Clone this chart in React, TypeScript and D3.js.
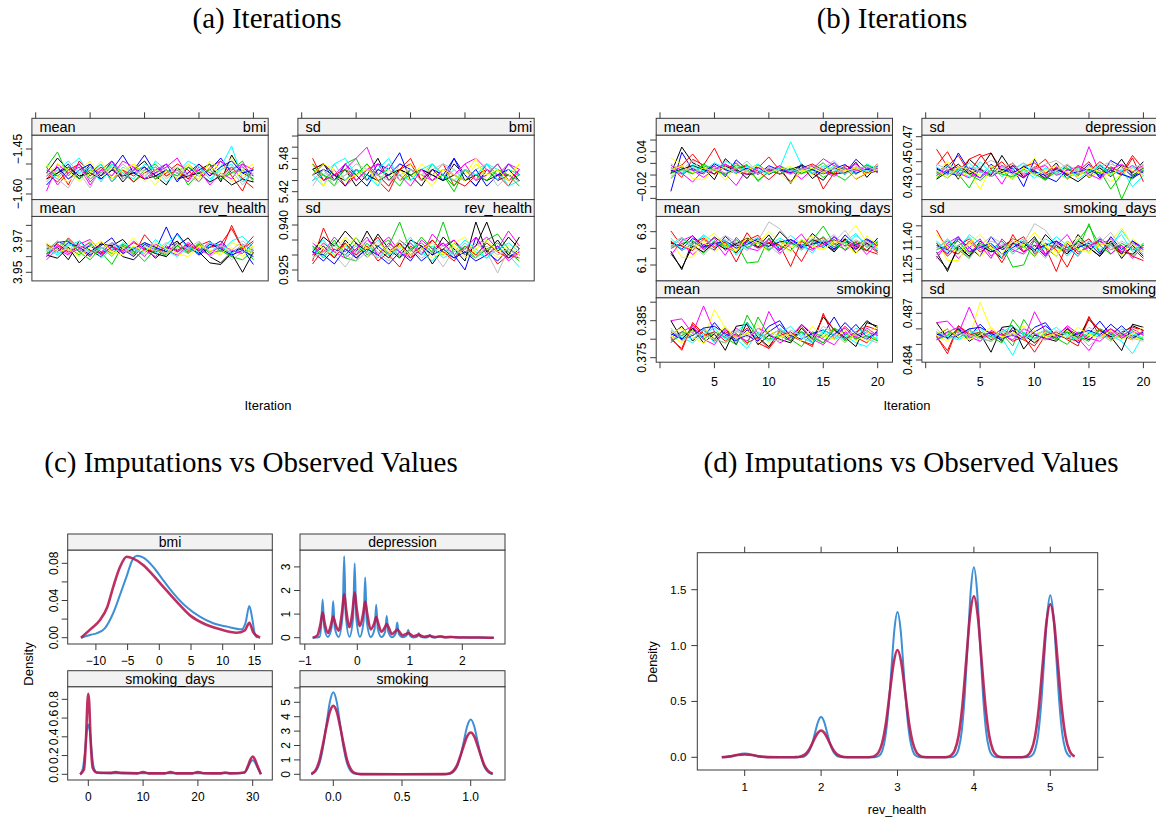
import React from "react";
import * as d3 from "d3";

const SANS = "'Liberation Sans', Arial, Helvetica, sans-serif";
const SERIF = "'Liberation Serif', 'Times New Roman', serif";
const FRAME = "#3a3a3a";
const STRIP_FILL = "#f2f2f2";
const OBS_COL = "#3d8fd6";
const IMP_COL = "#b61a51";

// ---------- trace plots (a) and (b) ----------
const iterations = [1, 2, 3, 4, 5, 6, 7, 8, 9, 10, 11, 12, 13, 14, 15, 16, 17, 18, 19, 20];
const iterTicks = [0, 5, 10, 15, 20];
const iterLabels = [5, 10, 15, 20];
const chainColors = ["#000000", "#ff0000", "#00cd00", "#0000ff", "#00ffff", "#ff00ff", "#ffff00", "#bebebe"];

const meanBmi = [
  [-1.53,-1.48,-1.52,-1.55,-1.50,-1.54,-1.51,-1.56,-1.52,-1.49,-1.54,-1.57,-1.51,-1.55,-1.52,-1.50,-1.56,-1.47,-1.53,-1.55],
  [-1.55,-1.51,-1.57,-1.49,-1.53,-1.50,-1.56,-1.52,-1.54,-1.51,-1.55,-1.53,-1.50,-1.52,-1.56,-1.51,-1.49,-1.54,-1.59,-1.51],
  [-1.51,-1.46,-1.54,-1.50,-1.55,-1.52,-1.49,-1.53,-1.56,-1.52,-1.50,-1.54,-1.51,-1.57,-1.53,-1.50,-1.55,-1.52,-1.49,-1.56],
  [-1.57,-1.53,-1.50,-1.55,-1.51,-1.54,-1.49,-1.55,-1.52,-1.47,-1.53,-1.50,-1.56,-1.51,-1.54,-1.52,-1.48,-1.53,-1.51,-1.54],
  [-1.52,-1.55,-1.51,-1.48,-1.54,-1.50,-1.56,-1.51,-1.53,-1.55,-1.49,-1.52,-1.54,-1.50,-1.53,-1.56,-1.51,-1.44,-1.55,-1.52],
  [-1.59,-1.50,-1.53,-1.51,-1.57,-1.52,-1.49,-1.54,-1.51,-1.55,-1.52,-1.50,-1.53,-1.56,-1.51,-1.54,-1.49,-1.52,-1.50,-1.54],
  [-1.50,-1.54,-1.56,-1.52,-1.49,-1.55,-1.51,-1.53,-1.50,-1.56,-1.52,-1.54,-1.51,-1.53,-1.55,-1.49,-1.52,-1.48,-1.54,-1.51],
  [-1.54,-1.52,-1.55,-1.53,-1.58,-1.51,-1.54,-1.50,-1.53,-1.52,-1.55,-1.51,-1.53,-1.50,-1.54,-1.52,-1.55,-1.53,-1.51,-1.56],
  [-1.55,-1.53,-1.51,-1.54,-1.53,-1.55,-1.52,-1.54,-1.53,-1.55,-1.54,-1.52,-1.55,-1.54,-1.53,-1.56,-1.54,-1.57,-1.55,-1.56],
  [-1.53,-1.56,-1.52,-1.50,-1.54,-1.51,-1.55,-1.52,-1.56,-1.53,-1.51,-1.54,-1.52,-1.55,-1.50,-1.53,-1.54,-1.51,-1.55,-1.58],
  [-1.52,-1.54,-1.51,-1.55,-1.52,-1.53,-1.50,-1.54,-1.52,-1.51,-1.55,-1.52,-1.54,-1.51,-1.53,-1.52,-1.55,-1.53,-1.52,-1.55],
  [-1.54,-1.51,-1.55,-1.52,-1.50,-1.55,-1.52,-1.47,-1.53,-1.51,-1.54,-1.52,-1.55,-1.53,-1.50,-1.54,-1.51,-1.49,-1.53,-1.52],
  [-1.56,-1.52,-1.49,-1.53,-1.51,-1.56,-1.50,-1.53,-1.55,-1.50,-1.52,-1.56,-1.53,-1.49,-1.51,-1.55,-1.52,-1.50,-1.56,-1.53],
  [-1.51,-1.57,-1.53,-1.50,-1.56,-1.52,-1.54,-1.49,-1.51,-1.55,-1.53,-1.51,-1.48,-1.54,-1.52,-1.57,-1.53,-1.55,-1.50,-1.52],
  [-1.54,-1.50,-1.52,-1.56,-1.53,-1.49,-1.55,-1.52,-1.50,-1.53,-1.57,-1.52,-1.55,-1.50,-1.54,-1.51,-1.53,-1.56,-1.52,-1.50],
  [-1.53,-1.55,-1.58,-1.52,-1.55,-1.53,-1.51,-1.55,-1.52,-1.54,-1.51,-1.55,-1.52,-1.54,-1.56,-1.52,-1.54,-1.52,-1.57,-1.53],
];

const sdBmi = [
  [5.45,5.47,5.44,5.46,5.43,5.45,5.48,5.44,5.46,5.45,5.43,5.46,5.44,5.47,5.45,5.43,5.46,5.44,5.45,5.44],
  [5.47,5.44,5.46,5.43,5.45,5.47,5.44,5.42,5.46,5.48,5.44,5.45,5.47,5.43,5.46,5.44,5.47,5.45,5.43,5.46],
  [5.46,5.45,5.43,5.47,5.48,5.44,5.46,5.45,5.43,5.46,5.44,5.47,5.45,5.42,5.46,5.44,5.45,5.47,5.44,5.45],
  [5.44,5.46,5.45,5.43,5.46,5.44,5.47,5.46,5.49,5.44,5.46,5.45,5.44,5.48,5.45,5.43,5.46,5.44,5.47,5.45],
  [5.45,5.43,5.47,5.48,5.45,5.43,5.46,5.48,5.44,5.46,5.45,5.47,5.44,5.46,5.44,5.45,5.47,5.46,5.43,5.44],
  [5.46,5.47,5.45,5.46,5.48,5.50,5.45,5.47,5.44,5.46,5.45,5.44,5.46,5.45,5.47,5.48,5.46,5.45,5.47,5.46],
  [5.47,5.43,5.46,5.44,5.45,5.47,5.43,5.45,5.46,5.44,5.47,5.45,5.46,5.44,5.45,5.48,5.44,5.46,5.45,5.47],
  [5.44,5.46,5.43,5.45,5.46,5.44,5.45,5.43,5.47,5.46,5.45,5.46,5.47,5.46,5.44,5.46,5.47,5.45,5.44,5.46],
  [5.46,5.47,5.45,5.44,5.46,5.45,5.44,5.45,5.46,5.45,5.46,5.45,5.44,5.45,5.44,5.45,5.44,5.45,5.45,5.44],
  [5.48,5.44,5.45,5.46,5.44,5.46,5.45,5.43,5.46,5.47,5.44,5.46,5.45,5.44,5.43,5.45,5.46,5.44,5.46,5.45],
  [5.47,5.45,5.44,5.46,5.45,5.47,5.45,5.46,5.44,5.45,5.46,5.44,5.45,5.43,5.46,5.45,5.44,5.46,5.45,5.43],
  [5.45,5.46,5.44,5.47,5.45,5.43,5.46,5.45,5.47,5.46,5.44,5.46,5.45,5.48,5.44,5.46,5.43,5.45,5.46,5.44],
  [5.44,5.45,5.47,5.44,5.46,5.45,5.43,5.47,5.45,5.44,5.46,5.47,5.45,5.44,5.46,5.45,5.47,5.44,5.46,5.45],
  [5.46,5.44,5.45,5.47,5.44,5.46,5.47,5.44,5.45,5.43,5.46,5.44,5.46,5.45,5.47,5.44,5.45,5.47,5.44,5.46],
  [5.45,5.47,5.46,5.44,5.45,5.46,5.44,5.46,5.44,5.47,5.45,5.43,5.46,5.45,5.44,5.47,5.45,5.46,5.44,5.47],
  [5.43,5.46,5.44,5.45,5.47,5.46,5.45,5.44,5.45,5.46,5.44,5.45,5.47,5.45,5.46,5.44,5.46,5.43,5.45,5.44],
];

const meanRevHealth = [
  [3.962,3.966,3.958,3.970,3.964,3.960,3.967,3.971,3.963,3.966,3.959,3.965,3.970,3.962,3.968,3.960,3.956,3.963,3.966,3.962],
  [3.968,3.963,3.972,3.965,3.960,3.969,3.964,3.967,3.961,3.974,3.966,3.962,3.969,3.964,3.967,3.970,3.963,3.980,3.965,3.973],
  [3.964,3.970,3.966,3.961,3.968,3.963,3.955,3.967,3.962,3.969,3.965,3.960,3.967,3.962,3.969,3.963,3.966,3.960,3.958,3.964],
  [3.960,3.969,3.970,3.963,3.967,3.962,3.969,3.965,3.960,3.968,3.964,3.979,3.963,3.967,3.961,3.966,3.970,3.963,3.965,3.955],
  [3.966,3.962,3.968,3.964,3.970,3.959,3.965,3.968,3.963,3.966,3.962,3.968,3.974,3.965,3.962,3.967,3.963,3.970,3.973,3.966],
  [3.958,3.965,3.961,3.968,3.971,3.963,3.968,3.962,3.966,3.960,3.968,3.964,3.961,3.967,3.964,3.969,3.966,3.962,3.968,3.964],
  [3.969,3.964,3.966,3.962,3.970,3.966,3.961,3.965,3.972,3.963,3.967,3.962,3.966,3.963,3.968,3.964,3.962,3.966,3.960,3.967],
  [3.963,3.967,3.964,3.970,3.962,3.965,3.968,3.963,3.966,3.961,3.964,3.969,3.965,3.962,3.966,3.960,3.965,3.958,3.963,3.961],
  [3.961,3.959,3.966,3.956,3.963,3.968,3.967,3.960,3.958,3.965,3.962,3.960,3.967,3.972,3.963,3.956,3.955,3.962,3.950,3.963],
  [3.965,3.968,3.963,3.967,3.964,3.962,3.966,3.964,3.969,3.965,3.963,3.966,3.964,3.968,3.964,3.966,3.968,3.978,3.965,3.970],
  [3.962,3.966,3.971,3.963,3.958,3.966,3.962,3.968,3.964,3.957,3.965,3.961,3.967,3.963,3.968,3.962,3.964,3.960,3.967,3.958],
  [3.967,3.963,3.969,3.966,3.961,3.967,3.972,3.962,3.965,3.969,3.966,3.963,3.975,3.966,3.962,3.968,3.965,3.961,3.964,3.960],
  [3.965,3.961,3.967,3.970,3.963,3.966,3.960,3.969,3.965,3.962,3.971,3.964,3.960,3.966,3.963,3.969,3.967,3.962,3.968,3.963],
  [3.960,3.967,3.962,3.965,3.969,3.961,3.966,3.963,3.970,3.964,3.960,3.967,3.963,3.969,3.965,3.961,3.968,3.964,3.962,3.969],
  [3.967,3.963,3.965,3.960,3.966,3.970,3.963,3.961,3.967,3.963,3.969,3.965,3.962,3.960,3.967,3.964,3.961,3.969,3.966,3.962],
  [3.963,3.970,3.964,3.967,3.962,3.965,3.969,3.966,3.961,3.967,3.964,3.962,3.968,3.965,3.970,3.963,3.967,3.964,3.970,3.965],
];

const sdRevHealth = [
  [0.930,0.933,0.929,0.935,0.931,0.938,0.932,0.929,0.934,0.930,0.933,0.927,0.932,0.935,0.930,0.933,0.941,0.931,0.936,0.932],
  [0.928,0.939,0.931,0.934,0.929,0.932,0.936,0.930,0.926,0.933,0.930,0.935,0.931,0.928,0.933,0.930,0.932,0.927,0.930,0.929],
  [0.933,0.930,0.935,0.929,0.928,0.934,0.930,0.933,0.941,0.931,0.936,0.932,0.930,0.934,0.931,0.929,0.935,0.937,0.932,0.930],
  [0.931,0.928,0.932,0.930,0.934,0.929,0.933,0.930,0.935,0.932,0.928,0.931,0.934,0.930,0.925,0.936,0.931,0.928,0.932,0.930],
  [0.932,0.935,0.930,0.933,0.931,0.934,0.929,0.932,0.930,0.934,0.931,0.928,0.932,0.930,0.934,0.931,0.929,0.933,0.930,0.926],
  [0.934,0.931,0.936,0.932,0.930,0.935,0.933,0.936,0.931,0.934,0.930,0.937,0.933,0.935,0.931,0.933,0.936,0.932,0.938,0.933],
  [0.930,0.934,0.931,0.936,0.933,0.929,0.932,0.930,0.935,0.931,0.933,0.929,0.931,0.934,0.936,0.930,0.932,0.929,0.931,0.934],
  [0.929,0.932,0.930,0.926,0.931,0.935,0.931,0.928,0.933,0.930,0.932,0.931,0.926,0.932,0.930,0.934,0.931,0.924,0.932,0.930],
  [0.931,0.936,0.933,0.938,0.934,0.931,0.937,0.932,0.929,0.935,0.933,0.930,0.936,0.932,0.928,0.941,0.931,0.935,0.930,0.936],
  [0.927,0.932,0.929,0.934,0.930,0.933,0.928,0.931,0.934,0.929,0.932,0.935,0.931,0.929,0.933,0.930,0.934,0.931,0.929,0.931],
  [0.933,0.929,0.934,0.931,0.936,0.930,0.933,0.935,0.929,0.932,0.934,0.931,0.941,0.930,0.933,0.929,0.932,0.934,0.931,0.928],
  [0.931,0.930,0.927,0.932,0.929,0.932,0.930,0.927,0.931,0.928,0.933,0.930,0.932,0.929,0.931,0.928,0.930,0.933,0.929,0.932],
  [0.932,0.929,0.934,0.930,0.933,0.931,0.935,0.930,0.932,0.936,0.930,0.933,0.929,0.931,0.935,0.932,0.929,0.932,0.934,0.931],
  [0.930,0.934,0.931,0.929,0.932,0.936,0.930,0.934,0.931,0.929,0.935,0.932,0.934,0.930,0.932,0.936,0.930,0.933,0.928,0.931],
  [0.935,0.932,0.930,0.933,0.936,0.932,0.934,0.931,0.933,0.930,0.932,0.934,0.930,0.933,0.929,0.932,0.935,0.931,0.933,0.930],
  [0.929,0.931,0.933,0.930,0.928,0.931,0.929,0.933,0.930,0.932,0.929,0.931,0.933,0.930,0.932,0.929,0.933,0.930,0.932,0.929],
];

const meanDepression = [
  [0.002,0.048,0.021,0.012,-0.008,0.028,0.011,-0.006,0.018,0.004,0.013,-0.015,0.019,0.003,-0.009,0.014,0.001,0.022,-0.004,0.016],
  [0.013,-0.004,0.027,0.017,0.046,0.009,0.021,0.002,0.012,0.031,0.008,-0.011,0.006,0.017,-0.024,0.004,0.013,-0.007,0.003,0.019],
  [-0.006,0.012,0.003,0.019,0.008,0.001,0.017,0.010,-0.009,0.005,0.016,0.007,0.002,0.011,-0.004,0.006,0.012,0.001,0.018,0.008],
  [-0.028,0.039,0.008,0.002,0.016,-0.003,0.026,0.009,0.013,0.001,0.011,0.004,0.018,0.002,0.009,0.021,0.003,0.027,0.010,0.015],
  [0.011,0.004,0.018,0.009,0.002,0.024,0.015,0.008,0.019,0.003,0.012,0.057,0.017,0.009,0.004,0.016,0.011,0.002,0.019,0.010],
  [0.017,0.003,-0.012,0.009,0.015,0.002,-0.018,0.011,0.004,0.012,0.001,0.008,-0.007,0.010,0.028,0.016,0.007,0.019,0.003,0.012],
  [0.029,0.018,-0.006,-0.008,0.012,-0.009,0.016,0.002,-0.005,0.010,0.003,-0.014,0.008,0.001,0.015,0.003,0.009,-0.006,0.004,0.018],
  [0.019,0.008,0.026,0.004,0.012,0.017,0.009,0.024,0.003,0.011,0.002,0.008,0.017,0.004,0.012,0.025,0.003,0.015,0.007,0.013],
  [0.004,0.010,0.016,0.009,0.002,0.015,0.008,0.001,0.003,0.009,0.002,0.010,0.016,-0.006,0.008,0.002,0.004,0.011,0.003,0.007],
  [0.009,0.017,0.036,0.013,0.001,0.018,0.010,0.016,0.007,-0.008,0.009,0.002,0.012,0.019,0.008,0.001,0.016,0.010,0.003,0.011],
  [0.003,0.009,0.002,0.016,0.008,0.001,0.011,0.018,-0.011,0.007,0.002,0.012,0.003,0.009,0.021,0.002,-0.009,0.008,0.017,0.004],
  [0.008,0.002,0.011,0.004,0.019,0.009,0.003,0.012,0.001,0.016,0.008,0.004,0.017,0.009,0.002,0.011,0.018,0.003,0.010,0.006],
  [0.012,0.001,0.015,0.007,0.021,0.012,0.004,0.015,0.009,0.002,0.014,0.006,0.011,0.003,0.016,0.009,0.001,0.013,0.006,0.015],
  [0.005,0.014,0.008,-0.004,0.010,0.019,0.006,0.001,0.013,0.007,0.016,0.002,0.010,0.015,0.005,-0.002,0.011,0.007,0.014,0.004],
  [0.009,0.016,0.004,0.012,0.006,0.014,0.001,0.009,0.016,0.004,0.010,0.015,0.006,0.012,0.003,0.014,0.007,0.012,0.002,0.010],
  [-0.002,0.007,0.013,0.003,0.010,0.004,0.012,0.006,0.002,0.013,0.007,0.001,0.009,0.016,0.006,0.011,0.003,0.009,0.015,0.007],
];

const sdDepression = [
  [0.441,0.448,0.436,0.452,0.444,0.439,0.455,0.442,0.437,0.446,0.440,0.449,0.436,0.444,0.438,0.447,0.441,0.452,0.439,0.445],
  [0.460,0.446,0.455,0.441,0.454,0.457,0.443,0.449,0.438,0.445,0.452,0.440,0.447,0.442,0.450,0.437,0.446,0.441,0.455,0.444],
  [0.437,0.444,0.440,0.429,0.445,0.438,0.443,0.436,0.447,0.441,0.435,0.444,0.439,0.446,0.437,0.443,0.428,0.440,0.436,0.445],
  [0.445,0.440,0.457,0.443,0.437,0.448,0.441,0.445,0.430,0.452,0.438,0.434,0.444,0.440,0.448,0.437,0.451,0.446,0.438,0.443],
  [0.440,0.447,0.442,0.438,0.450,0.441,0.446,0.439,0.443,0.437,0.445,0.440,0.448,0.436,0.442,0.446,0.439,0.444,0.430,0.439],
  [0.439,0.443,0.446,0.441,0.437,0.444,0.432,0.447,0.440,0.442,0.437,0.446,0.441,0.438,0.462,0.440,0.445,0.442,0.447,0.441],
  [0.438,0.451,0.437,0.442,0.428,0.445,0.440,0.436,0.443,0.453,0.439,0.441,0.436,0.444,0.438,0.442,0.434,0.440,0.445,0.437],
  [0.443,0.439,0.445,0.440,0.446,0.451,0.447,0.443,0.449,0.444,0.448,0.451,0.445,0.440,0.446,0.443,0.448,0.445,0.441,0.446],
  [0.436,0.442,0.448,0.440,0.444,0.457,0.441,0.447,0.438,0.443,0.436,0.445,0.439,0.434,0.441,0.445,0.438,0.447,0.441,0.450],
  [0.447,0.458,0.442,0.452,0.456,0.444,0.450,0.440,0.446,0.449,0.441,0.445,0.439,0.447,0.442,0.450,0.444,0.439,0.453,0.434],
  [0.442,0.437,0.444,0.440,0.435,0.443,0.440,0.438,0.444,0.440,0.436,0.442,0.445,0.439,0.443,0.441,0.445,0.420,0.439,0.443],
  [0.444,0.441,0.439,0.445,0.442,0.438,0.444,0.441,0.446,0.442,0.439,0.444,0.440,0.442,0.444,0.439,0.443,0.440,0.437,0.442],
  [0.446,0.440,0.443,0.449,0.441,0.446,0.438,0.444,0.449,0.439,0.445,0.441,0.437,0.445,0.442,0.448,0.440,0.443,0.446,0.439],
  [0.439,0.446,0.441,0.437,0.443,0.440,0.447,0.442,0.438,0.444,0.447,0.439,0.443,0.446,0.440,0.436,0.444,0.448,0.442,0.447],
  [0.443,0.437,0.446,0.444,0.439,0.447,0.442,0.440,0.445,0.439,0.443,0.447,0.441,0.438,0.445,0.442,0.439,0.446,0.443,0.440],
  [0.448,0.444,0.439,0.446,0.442,0.438,0.445,0.449,0.441,0.446,0.440,0.443,0.448,0.442,0.439,0.446,0.450,0.441,0.445,0.448],
];

const meanSmokingDays = [
  [6.183,6.072,6.241,6.204,6.268,6.219,6.171,6.252,6.207,6.281,6.193,6.238,6.202,6.289,6.231,6.178,6.254,6.212,6.186,6.262],
  [6.305,6.214,6.187,6.256,6.201,6.236,6.118,6.248,6.279,6.192,6.243,6.206,6.121,6.237,6.264,6.209,6.251,6.198,6.226,6.174],
  [6.212,6.258,6.223,6.171,6.246,6.205,6.234,6.112,6.119,6.262,6.218,6.187,6.249,6.213,6.271,6.195,6.236,6.221,6.184,6.241],
  [6.238,6.196,6.259,6.223,6.189,6.272,6.214,6.240,6.203,6.231,6.186,6.254,6.219,6.247,6.204,6.268,6.228,6.193,6.251,6.215],
  [6.224,6.267,6.201,6.282,6.236,6.209,6.255,6.194,6.243,6.217,6.261,6.228,6.188,6.239,6.208,6.251,6.214,6.277,6.226,6.199],
  [6.199,6.232,6.162,6.218,6.261,6.187,6.227,6.241,6.201,6.256,6.193,6.235,6.214,6.188,6.246,6.224,6.259,6.205,6.238,6.219],
  [6.251,6.146,6.147,6.238,6.181,6.224,6.196,6.262,6.219,6.184,6.244,6.207,6.236,6.275,6.192,6.231,6.262,6.337,6.237,6.208],
  [6.226,6.241,6.209,6.247,6.222,6.253,6.232,6.218,6.244,6.359,6.318,6.234,6.214,6.246,6.226,6.238,6.308,6.221,6.243,6.201],
  [6.169,6.081,6.214,6.178,6.233,6.196,6.227,6.262,6.241,6.209,6.301,6.237,6.198,6.253,6.227,6.188,6.257,6.172,6.232,6.184],
  [6.244,6.187,6.228,6.263,6.211,6.239,6.176,6.294,6.203,6.236,6.219,6.091,6.243,6.198,6.231,6.252,6.214,6.236,6.188,6.165],
  [6.207,6.229,6.246,6.198,6.238,6.214,6.251,6.206,6.233,6.187,6.245,6.229,6.216,6.248,6.334,6.227,6.193,6.244,6.212,6.235],
  [6.231,6.214,6.277,6.209,6.227,6.246,6.201,6.224,6.258,6.213,6.238,6.251,6.209,6.226,6.242,6.196,6.281,6.219,6.257,6.222],
  [6.262,6.188,6.231,6.276,6.204,6.249,6.158,6.231,6.266,6.199,6.213,6.278,6.224,6.171,6.258,6.206,6.241,6.289,6.202,6.247],
  [6.158,6.247,6.275,6.191,6.239,6.158,6.266,6.203,6.186,6.254,6.171,6.226,6.286,6.198,6.217,6.272,6.186,6.235,6.163,6.229],
  [6.287,6.221,6.194,6.246,6.292,6.214,6.181,6.269,6.228,6.301,6.235,6.178,6.257,6.212,6.191,6.242,6.229,6.168,6.276,6.218],
  [6.203,6.266,6.218,6.159,6.228,6.277,6.238,6.186,6.252,6.217,6.163,6.246,6.197,6.262,6.239,6.283,6.206,6.252,6.214,6.191],
];

const sdSmokingDays = [
  [11.33,11.24,11.36,11.31,11.38,11.34,11.30,11.37,11.35,11.40,11.32,11.36,11.33,11.41,11.35,11.31,11.37,11.33,11.32,11.36],
  [11.43,11.34,11.32,11.38,11.33,11.36,11.28,11.37,11.40,11.32,11.37,11.34,11.26,11.36,11.39,11.33,11.38,11.32,11.35,11.30],
  [11.35,11.38,11.34,11.30,11.37,11.33,11.36,11.26,11.27,11.39,11.35,11.31,11.38,11.34,11.46,11.32,11.36,11.35,11.31,11.37],
  [11.37,11.32,11.39,11.35,11.31,11.40,11.34,11.37,11.33,11.36,11.31,11.38,11.35,11.37,11.33,11.39,11.36,11.32,11.38,11.34],
  [11.34,11.39,11.33,11.41,11.37,11.33,11.38,11.32,11.37,11.34,11.39,11.36,11.31,11.37,11.33,11.38,11.35,11.43,11.36,11.32],
  [11.32,11.36,11.30,11.35,11.39,11.31,11.36,11.38,11.33,11.39,11.32,11.37,11.35,11.31,11.38,11.36,11.39,11.33,11.37,11.35],
  [11.38,11.29,11.29,11.37,11.31,11.35,11.32,11.38,11.35,11.31,11.37,11.33,11.36,11.40,11.32,11.36,11.38,11.44,11.36,11.33],
  [11.36,11.37,11.33,11.37,11.35,11.38,11.36,11.34,11.37,11.46,11.43,11.36,11.34,11.37,11.35,11.37,11.42,11.35,11.37,11.33],
  [11.31,11.25,11.35,11.31,11.36,11.33,11.35,11.39,11.37,11.33,11.41,11.36,11.32,11.38,11.35,11.31,11.38,11.30,11.36,11.31],
  [11.37,11.31,11.36,11.39,11.34,11.37,11.30,11.41,11.33,11.36,11.35,11.24,11.37,11.32,11.36,11.38,11.34,11.36,11.31,11.29],
  [11.34,11.36,11.38,11.32,11.37,11.34,11.38,11.33,11.36,11.31,11.37,11.35,11.34,11.38,11.45,11.36,11.32,11.37,11.34,11.36],
  [11.36,11.34,11.40,11.33,11.35,11.37,11.32,11.35,11.38,11.34,11.36,11.38,11.33,11.35,11.37,11.32,11.40,11.34,11.38,11.35],
  [11.38,11.33,11.36,11.40,11.34,11.37,11.30,11.36,11.39,11.33,11.35,11.40,11.36,11.31,11.38,11.34,11.37,11.41,11.33,11.37],
  [11.30,11.37,11.40,11.33,11.36,11.30,11.39,11.34,11.32,11.38,11.31,11.36,11.41,11.33,11.35,11.39,11.32,11.36,11.30,11.36],
  [11.41,11.35,11.33,11.37,11.41,11.35,11.32,11.39,11.36,11.42,11.36,11.31,11.38,11.34,11.33,11.37,11.36,11.31,11.39,11.35],
  [11.34,11.39,11.35,11.30,11.36,11.40,11.37,11.32,11.38,11.35,11.30,11.37,11.33,11.39,11.36,11.40,11.34,11.38,11.35,11.32],
];

const meanSmoking = [
  [0.3810,0.3835,0.3795,0.3825,0.3800,0.3830,0.3785,0.3845,0.3805,0.3780,0.3820,0.3795,0.3840,0.3810,0.3790,0.3825,0.3800,0.3815,0.3850,0.3830],
  [0.3800,0.3775,0.3845,0.3815,0.3795,0.3820,0.3805,0.3830,0.3790,0.3775,0.3825,0.3810,0.3795,0.3780,0.3870,0.3800,0.3835,0.3805,0.3790,0.3825],
  [0.3805,0.3820,0.3810,0.3830,0.3800,0.3790,0.3815,0.3785,0.3860,0.3810,0.3825,0.3800,0.3780,0.3820,0.3805,0.3830,0.3795,0.3810,0.3825,0.3795],
  [0.3820,0.3800,0.3830,0.3805,0.3845,0.3810,0.3795,0.3825,0.3800,0.3835,0.3850,0.3805,0.3820,0.3790,0.3815,0.3860,0.3810,0.3840,0.3805,0.3815],
  [0.3795,0.3810,0.3800,0.3825,0.3790,0.3815,0.3800,0.3775,0.3820,0.3800,0.3830,0.3805,0.3815,0.3795,0.3820,0.3800,0.3810,0.3790,0.3780,0.3810],
  [0.3850,0.3855,0.3815,0.3890,0.3820,0.3805,0.3830,0.3810,0.3795,0.3875,0.3820,0.3810,0.3835,0.3800,0.3785,0.3815,0.3830,0.3800,0.3820,0.3810],
  [0.3810,0.3790,0.3825,0.3800,0.3880,0.3830,0.3805,0.3815,0.3840,0.3790,0.3820,0.3805,0.3830,0.3795,0.3810,0.3825,0.3790,0.3815,0.3795,0.3805],
  [0.3800,0.3815,0.3820,0.3825,0.3810,0.3805,0.3820,0.3815,0.3800,0.3810,0.3825,0.3815,0.3820,0.3810,0.3790,0.3805,0.3815,0.3810,0.3805,0.3815],
  [0.3850,0.3800,0.3830,0.3790,0.3815,0.3770,0.3835,0.3840,0.3785,0.3810,0.3800,0.3790,0.3830,0.3800,0.3860,0.3825,0.3805,0.3780,0.3845,0.3835],
  [0.3805,0.3770,0.3840,0.3810,0.3820,0.3795,0.3815,0.3790,0.3805,0.3775,0.3810,0.3820,0.3795,0.3785,0.3865,0.3825,0.3800,0.3820,0.3835,0.3825],
  [0.3795,0.3810,0.3825,0.3800,0.3820,0.3805,0.3785,0.3865,0.3815,0.3800,0.3810,0.3795,0.3820,0.3805,0.3790,0.3830,0.3815,0.3800,0.3810,0.3795],
  [0.3815,0.3800,0.3810,0.3830,0.3835,0.3815,0.3800,0.3810,0.3795,0.3820,0.3840,0.3810,0.3800,0.3815,0.3825,0.3810,0.3845,0.3815,0.3800,0.3820],
  [0.3825,0.3805,0.3790,0.3815,0.3830,0.3800,0.3820,0.3845,0.3810,0.3795,0.3815,0.3835,0.3805,0.3790,0.3825,0.3810,0.3800,0.3830,0.3815,0.3800],
  [0.3790,0.3820,0.3835,0.3800,0.3785,0.3825,0.3810,0.3795,0.3830,0.3815,0.3790,0.3805,0.3840,0.3815,0.3800,0.3785,0.3820,0.3805,0.3830,0.3810],
  [0.3815,0.3830,0.3805,0.3790,0.3810,0.3835,0.3800,0.3820,0.3790,0.3825,0.3805,0.3815,0.3795,0.3835,0.3810,0.3800,0.3825,0.3795,0.3815,0.3835],
  [0.3830,0.3795,0.3815,0.3810,0.3800,0.3790,0.3825,0.3805,0.3830,0.3800,0.3795,0.3825,0.3810,0.3800,0.3835,0.3815,0.3790,0.3820,0.3800,0.3790],
];

const sdSmoking = [
  [0.4856,0.4860,0.4854,0.4859,0.4855,0.4858,0.4852,0.4861,0.4856,0.4851,0.4857,0.4854,0.4860,0.4856,0.4853,0.4859,0.4855,0.4857,0.4862,0.4859],
  [0.4855,0.4846,0.4862,0.4857,0.4854,0.4858,0.4856,0.4859,0.4853,0.4849,0.4859,0.4856,0.4854,0.4852,0.4868,0.4855,0.4860,0.4856,0.4853,0.4859],
  [0.4855,0.4858,0.4856,0.4860,0.4854,0.4852,0.4857,0.4849,0.4866,0.4856,0.4859,0.4854,0.4850,0.4858,0.4855,0.4860,0.4853,0.4856,0.4859,0.4853],
  [0.4858,0.4854,0.4860,0.4855,0.4863,0.4856,0.4853,0.4859,0.4854,0.4861,0.4864,0.4855,0.4858,0.4851,0.4857,0.4865,0.4856,0.4862,0.4855,0.4857],
  [0.4853,0.4856,0.4854,0.4859,0.4852,0.4857,0.4854,0.4843,0.4858,0.4854,0.4860,0.4855,0.4857,0.4853,0.4858,0.4854,0.4856,0.4852,0.4844,0.4856],
  [0.4864,0.4865,0.4857,0.4874,0.4858,0.4855,0.4860,0.4856,0.4853,0.4871,0.4858,0.4856,0.4861,0.4854,0.4846,0.4857,0.4860,0.4854,0.4858,0.4856],
  [0.4856,0.4852,0.4859,0.4854,0.4877,0.4860,0.4855,0.4857,0.4862,0.4852,0.4858,0.4855,0.4860,0.4853,0.4856,0.4859,0.4852,0.4857,0.4853,0.4855],
  [0.4854,0.4857,0.4858,0.4859,0.4856,0.4855,0.4858,0.4857,0.4854,0.4856,0.4859,0.4857,0.4858,0.4856,0.4849,0.4855,0.4857,0.4856,0.4855,0.4857],
  [0.4864,0.4854,0.4860,0.4852,0.4857,0.4845,0.4861,0.4862,0.4847,0.4856,0.4854,0.4852,0.4860,0.4854,0.4866,0.4859,0.4855,0.4846,0.4863,0.4861],
  [0.4855,0.4844,0.4862,0.4856,0.4858,0.4853,0.4857,0.4852,0.4855,0.4845,0.4856,0.4858,0.4853,0.4849,0.4867,0.4859,0.4854,0.4858,0.4861,0.4859],
  [0.4853,0.4856,0.4859,0.4854,0.4858,0.4855,0.4851,0.4866,0.4857,0.4854,0.4856,0.4853,0.4858,0.4855,0.4852,0.4860,0.4857,0.4854,0.4856,0.4853],
  [0.4857,0.4854,0.4856,0.4860,0.4861,0.4857,0.4854,0.4856,0.4853,0.4858,0.4862,0.4856,0.4854,0.4857,0.4859,0.4856,0.4863,0.4857,0.4854,0.4858],
  [0.4858,0.4855,0.4853,0.4857,0.4860,0.4854,0.4858,0.4862,0.4856,0.4853,0.4857,0.4861,0.4855,0.4853,0.4858,0.4856,0.4854,0.4860,0.4857,0.4854],
  [0.4853,0.4858,0.4861,0.4855,0.4852,0.4859,0.4856,0.4853,0.4860,0.4857,0.4853,0.4855,0.4862,0.4857,0.4854,0.4852,0.4858,0.4855,0.4860,0.4856],
  [0.4857,0.4860,0.4855,0.4853,0.4856,0.4861,0.4854,0.4858,0.4853,0.4859,0.4855,0.4857,0.4854,0.4861,0.4856,0.4854,0.4859,0.4853,0.4857,0.4861],
  [0.4860,0.4853,0.4857,0.4856,0.4854,0.4852,0.4859,0.4855,0.4860,0.4854,0.4853,0.4859,0.4856,0.4854,0.4861,0.4857,0.4852,0.4858,0.4854,0.4852],
];

// layout of the lattice pages
const FIG_X0 = { a: [35.7, 301.7], b: [660, 925.7] }; // pixel of iteration 0
const ITER_SPAN = 217.7; // pixels for 20 iterations
const PANEL_W = 236.3;
const ROW0 = 118.3;
const ROW_H = 81.3;
const STRIP_H = 16.8;

// anchor: [value1, px below plot top, value2, px below plot top]
const tracePanels = [
  { fig: "a", col: 0, row: 0, stat: "mean", name: "bmi", chains: meanBmi, anchor: [-1.45, 13.9, -1.6, 58.9], ticks: [-1.6, -1.55, -1.5, -1.45], labels: [-1.6, -1.45], fmt: ".2f" },
  { fig: "a", col: 1, row: 0, stat: "sd", name: "bmi", chains: sdBmi, anchor: [5.48, 23.2, 5.42, 56.6], ticks: [5.42, 5.44, 5.46, 5.48, 5.5, 5.52], labels: [5.42, 5.48], fmt: ".2f" },
  { fig: "a", col: 0, row: 1, stat: "mean", name: "rev_health", chains: meanRevHealth, anchor: [3.97, 24.6, 3.95, 55.9], ticks: [3.95, 3.96, 3.97, 3.98], labels: [3.95, 3.97], fmt: ".2f" },
  { fig: "a", col: 1, row: 1, stat: "sd", name: "rev_health", chains: sdRevHealth, anchor: [0.94, 8.6, 0.925, 53.6], ticks: [0.925, 0.93, 0.935, 0.94], labels: [0.925, 0.94], fmt: ".3f" },
  { fig: "b", col: 0, row: 0, stat: "mean", name: "depression", chains: meanDepression, anchor: [0.04, 16.6, -0.02, 51.6], ticks: [-0.04, -0.02, 0, 0.02, 0.04, 0.06], labels: [-0.02, 0.04], fmt: ".2f" },
  { fig: "b", col: 1, row: 0, stat: "sd", name: "depression", chains: sdDepression, anchor: [0.47, 1.6, 0.43, 51.6], ticks: [0.43, 0.44, 0.45, 0.46, 0.47], labels: [0.43, 0.45, 0.47], fmt: ".2f" },
  { fig: "b", col: 0, row: 1, stat: "mean", name: "smoking_days", chains: meanSmokingDays, anchor: [6.3, 15.3, 6.1, 48.6], ticks: [6.1, 6.2, 6.3], labels: [6.1, 6.3], fmt: ".1f" },
  { fig: "b", col: 1, row: 1, stat: "sd", name: "smoking_days", chains: sdSmokingDays, anchor: [11.4, 20.3, 11.25, 52.9], ticks: [11.25, 11.3, 11.35, 11.4, 11.45], labels: [11.25, 11.4], fmt: ".2f" },
  { fig: "b", col: 0, row: 2, stat: "mean", name: "smoking", chains: meanSmoking, anchor: [0.385, 23, 0.375, 60], ticks: [0.375, 0.38, 0.385, 0.39], labels: [0.375, 0.385], fmt: ".3f" },
  { fig: "b", col: 1, row: 2, stat: "sd", name: "smoking", chains: sdSmoking, anchor: [0.487, 15.6, 0.484, 62.3], ticks: [0.484, 0.485, 0.486, 0.487], labels: [0.484, 0.487], fmt: ".3f" },
];

// ---------- density plots (c) and (d) ----------
const bmiObs = [[-12.35,0],[-10.9,0.003],[-9.9,0.0047],[-8.6,0.010],[-7.3,0.026],[-6.2,0.046],[-5.1,0.067],[-4.35,0.082],[-3.5,0.088],[-2.5,0.086],[-0.95,0.076],[0.6,0.062],[2.2,0.048],[4.3,0.033],[6.4,0.0226],[8.5,0.0155],[10.6,0.012],[13.0,0.009],[13.6,0.016],[14.2,0.034],[14.7,0.019],[15.1,0.003],[15.5,0]];
const bmiImp = [[-12.35,0],[-10.7,0.010],[-9.35,0.019],[-8.2,0.033],[-7.25,0.055],[-6.2,0.076],[-5.15,0.087],[-4.1,0.085],[-2.5,0.078],[-0.95,0.067],[0.6,0.055],[2.7,0.039],[4.85,0.024],[6.9,0.0155],[9.6,0.009],[12.2,0.0054],[13.5,0.008],[14.2,0.016],[14.8,0.006],[15.9,0]];

const depressionObs = [[-0.85,0],[-0.72,0.03],[-0.69,0.45],[-0.66,1.62],[-0.63,0.45],[-0.56,0.03],[-0.49,0.43],[-0.46,1.55],[-0.43,0.43],[-0.355,0.03],[-0.28,0.95],[-0.25,3.45],[-0.22,0.95],[-0.15,0.04],[-0.08,0.86],[-0.05,3.15],[-0.02,0.86],[0.05,0.04],[0.12,0.7],[0.15,2.55],[0.18,0.7],[0.255,0.03],[0.33,0.38],[0.36,1.4],[0.39,0.38],[0.46,0.03],[0.53,0.25],[0.56,0.92],[0.59,0.25],[0.66,0.02],[0.73,0.17],[0.76,0.64],[0.79,0.17],[0.865,0.02],[0.94,0.09],[0.97,0.33],[1.0,0.09],[1.07,0.01],[1.14,0.05],[1.17,0.19],[1.2,0.05],[1.275,0.01],[1.35,0.03],[1.38,0.11],[1.41,0.03],[1.48,0.01],[1.58,0.06],[1.68,0.01],[1.78,0.04],[1.88,0.01],[2.0,0.015],[2.2,0.01],[2.4,0.005],[2.6,0]];
const depressionImp = [[-0.85,0],[-0.76,0.1],[-0.7,0.6],[-0.66,1.07],[-0.62,0.6],[-0.56,0.2],[-0.5,0.55],[-0.46,0.9],[-0.42,0.6],[-0.355,0.3],[-0.29,1.1],[-0.25,1.85],[-0.21,1.15],[-0.15,0.45],[-0.09,1.15],[-0.05,1.92],[-0.01,1.2],[0.05,0.5],[0.11,1.0],[0.15,1.53],[0.19,1.0],[0.255,0.35],[0.32,0.6],[0.36,0.87],[0.4,0.6],[0.46,0.25],[0.52,0.42],[0.56,0.58],[0.6,0.42],[0.66,0.15],[0.72,0.26],[0.76,0.35],[0.8,0.26],[0.865,0.1],[0.93,0.16],[0.97,0.2],[1.01,0.15],[1.07,0.06],[1.17,0.12],[1.275,0.04],[1.38,0.08],[1.48,0.03],[1.58,0.05],[1.68,0.02],[1.78,0.03],[2.0,0.01],[2.3,0.01],[2.6,0]];

const smokingDaysObs = [[-1.5,0],[-1.0,0.06],[-0.6,0.25],[-0.3,0.45],[0,0.53],[0.3,0.45],[0.6,0.25],[1.0,0.07],[1.5,0.02],[3,0.01],[10,0.01],[20,0.01],[27,0.01],[28.5,0.02],[29.2,0.08],[29.6,0.13],[30,0.15],[30.4,0.13],[30.8,0.08],[31.5,0]];
const smokingDaysImp = [[-1.5,0],[-0.8,0.05],[-0.4,0.4],[-0.15,0.78],[0,0.86],[0.15,0.78],[0.4,0.4],[0.8,0.07],[1.5,0.02],[4,0.015],[5,0.025],[6,0.015],[9,0.01],[10,0.025],[11,0.01],[14,0.01],[15,0.025],[16,0.01],[19,0.01],[20,0.025],[21,0.012],[24,0.01],[25,0.02],[26,0.01],[28.5,0.02],[29.2,0.1],[29.6,0.16],[30,0.19],[30.4,0.16],[30.8,0.1],[31.5,0]];

const smokingObs = [[-0.16,0],[-0.15,0.06],[-0.125,0.25],[-0.1,0.77],[-0.075,1.85],[-0.05,3.46],[-0.025,5.03],[0,5.7],[0.025,5.03],[0.05,3.46],[0.075,1.85],[0.1,0.77],[0.125,0.25],[0.15,0.06],[0.2,0.005],[0.5,0],[0.8,0.005],[0.85,0.04],[0.875,0.17],[0.9,0.51],[0.925,1.23],[0.95,2.3],[0.975,3.35],[1,3.8],[1.025,3.35],[1.05,2.3],[1.075,1.23],[1.1,0.51],[1.125,0.17],[1.15,0.04],[1.16,0.02]];
const smokingImp = [[-0.16,0.02],[-0.125,0.35],[-0.1,1.0],[-0.075,2.1],[-0.05,3.3],[-0.025,4.35],[0,4.75],[0.025,4.35],[0.05,3.3],[0.075,2.1],[0.1,1.0],[0.125,0.4],[0.15,0.12],[0.2,0.01],[0.5,0],[0.8,0.01],[0.85,0.08],[0.875,0.25],[0.9,0.62],[0.925,1.28],[0.95,2.0],[0.975,2.65],[1,2.9],[1.025,2.65],[1.05,2.0],[1.075,1.28],[1.1,0.62],[1.125,0.25],[1.16,0.04]];

const revHealthObs = [[0.7,0],[0.8,0.004],[0.9,0.02],[0.96,0.032],[1,0.035],[1.04,0.032],[1.1,0.02],[1.2,0.004],[1.3,0.001],[1.6,0],[1.76,0.002],[1.8,0.016],[1.84,0.049],[1.88,0.117],[1.92,0.218],[1.96,0.318],[2,0.36],[2.04,0.318],[2.08,0.218],[2.12,0.117],[2.16,0.049],[2.2,0.016],[2.24,0.004],[2.3,0],[2.7,0],[2.76,0.014],[2.8,0.057],[2.84,0.176],[2.88,0.422],[2.92,0.788],[2.96,1.147],[3,1.3],[3.04,1.147],[3.08,0.788],[3.12,0.422],[3.16,0.176],[3.2,0.057],[3.24,0.014],[3.3,0],[3.7,0],[3.76,0.019],[3.8,0.075],[3.84,0.23],[3.88,0.552],[3.92,1.031],[3.96,1.5],[4,1.7],[4.04,1.5],[4.08,1.031],[4.12,0.552],[4.16,0.23],[4.2,0.075],[4.24,0.019],[4.3,0],[4.7,0],[4.76,0.016],[4.8,0.064],[4.84,0.196],[4.88,0.471],[4.92,0.879],[4.96,1.28],[5,1.45],[5.04,1.28],[5.08,0.879],[5.12,0.471],[5.16,0.196],[5.2,0.064],[5.24,0.016],[5.27,0.005]];
const revHealthImp = [[0.7,0],[0.8,0.008],[0.9,0.02],[1,0.025],[1.1,0.02],[1.2,0.008],[1.3,0.002],[1.6,0],[1.65,0.001],[1.7,0.003],[1.75,0.011],[1.8,0.032],[1.85,0.078],[1.9,0.146],[1.95,0.212],[2,0.24],[2.05,0.212],[2.1,0.146],[2.15,0.078],[2.2,0.032],[2.25,0.011],[2.3,0.003],[2.4,0],[2.6,0],[2.65,0.002],[2.7,0.011],[2.75,0.042],[2.8,0.13],[2.85,0.312],[2.9,0.582],[2.95,0.847],[3,0.96],[3.05,0.847],[3.1,0.582],[3.15,0.312],[3.2,0.13],[3.25,0.042],[3.3,0.011],[3.35,0.002],[3.4,0],[3.6,0],[3.65,0.003],[3.7,0.016],[3.75,0.063],[3.8,0.195],[3.85,0.468],[3.9,0.873],[3.95,1.271],[4,1.44],[4.05,1.271],[4.1,0.873],[4.15,0.468],[4.2,0.195],[4.25,0.063],[4.3,0.016],[4.35,0.003],[4.4,0],[4.6,0],[4.65,0.003],[4.7,0.015],[4.75,0.06],[4.8,0.185],[4.85,0.445],[4.9,0.831],[4.95,1.209],[5,1.37],[5.05,1.209],[5.1,0.831],[5.15,0.445],[5.2,0.185],[5.25,0.06],[5.3,0.015],[5.32,0.01]];

const densityPanels = [
  { name: "bmi", left: 67.7, right: 272.3, stripTop: 534, bottom: 644, obs: bmiObs, imp: bmiImp, xA: [0, 159.3, 15, 254.4], yA: [0, 637.7, 0.08, 563.3], xTicks: [-10, -5, 0, 5, 10, 15], xFmt: "d", yTicks: [0, 0.02, 0.04, 0.06, 0.08], yLabels: [0, 0.04, 0.08], yFmt: ".2f" },
  { name: "depression", left: 300, right: 505, stripTop: 534, bottom: 644, obs: depressionObs, imp: depressionImp, xA: [0, 357.3, 2, 462.3], yA: [0, 637.7, 3, 566.9], xTicks: [-1, 0, 1, 2], xFmt: "d", yTicks: [0, 1, 2, 3], yLabels: [0, 1, 2, 3], yFmt: "d" },
  { name: "smoking_days", left: 67.7, right: 272.3, stripTop: 670.7, bottom: 780, obs: smokingDaysObs, imp: smokingDaysImp, xA: [0, 88.3, 30, 252.7], yA: [0, 774.3, 0.8, 699.3], xTicks: [0, 10, 20, 30], xFmt: "d", yTicks: [0, 0.2, 0.4, 0.6, 0.8], yLabels: [0, 0.2, 0.4, 0.6, 0.8], yFmt: ".1f" },
  { name: "smoking", left: 300, right: 505, stripTop: 670.7, bottom: 780, obs: smokingObs, imp: smokingImp, xA: [0, 333.3, 1, 470.7], yA: [0, 774.3, 5, 702.3], xTicks: [0, 0.5, 1], xFmt: ".1f", yTicks: [0, 1, 2, 3, 4, 5, 6], yLabels: [0, 1, 2, 3, 4, 5], yFmt: "d" },
];

const revTicks = [1, 2, 3, 4, 5];
const revDensityTicks = [0, 0.5, 1, 1.5];

function TracePanel({ p, id }) {
  const x0 = FIG_X0[p.fig][p.col];
  const x = d3.scaleLinear().domain([0, 20]).range([x0, x0 + ITER_SPAN]);
  const left = x0 - 3.8;
  const right = left + PANEL_W;
  const stripTop = ROW0 + p.row * ROW_H;
  const top = stripTop + STRIP_H;
  const bottom = stripTop + ROW_H;
  const y = d3.scaleLinear().domain([p.anchor[0], p.anchor[2]]).range([top + p.anchor[1], top + p.anchor[3]]);
  const line = d3.line<number>().x((_, i) => x(iterations[i])).y((v) => y(v));
  const fmt = d3.format(p.fmt);
  return (
    <g>
      <clipPath id={id}>
        <rect x={left} y={top} width={right - left} height={bottom - top} />
      </clipPath>
      <g clipPath={`url(#${id})`}>
        {p.chains.map((c, k) => (
          <path key={k} d={line(c)} fill="none" stroke={chainColors[k % chainColors.length]} strokeWidth={1} />
        ))}
      </g>
      <rect x={left} y={top} width={right - left} height={bottom - top} fill="none" stroke={FRAME} />
      <rect x={left} y={stripTop} width={right - left} height={STRIP_H} fill={STRIP_FILL} stroke={FRAME} />
      <text x={left + 7.5} y={stripTop + 13.4} fontSize={14.5} fontFamily={SANS}>{p.stat}</text>
      <text x={right - 2} y={stripTop + 13.4} fontSize={14.5} fontFamily={SANS} textAnchor="end">{p.name}</text>
      {p.ticks.map((t) => (
        <line key={t} x1={left - 6} x2={left} y1={y(t)} y2={y(t)} stroke={FRAME} />
      ))}
      {p.labels.map((t) => (
        <text key={t} transform={`translate(${left - 10},${y(t)}) rotate(-90)`} fontSize={12} fontFamily={SANS} textAnchor="middle">{fmt(t)}</text>
      ))}
      {p.row === 0 && iterTicks.map((t) => (
        <line key={"t" + t} x1={x(t)} x2={x(t)} y1={stripTop - 6} y2={stripTop} stroke={FRAME} />
      ))}
      {p.fig === "b" && p.row === 2 && iterTicks.map((t) => (
        <line key={"b" + t} x1={x(t)} x2={x(t)} y1={bottom} y2={bottom + 6} stroke={FRAME} />
      ))}
      {p.fig === "b" && p.row === 2 && iterLabels.map((t) => (
        <text key={"l" + t} x={x(t)} y={bottom + 24} fontSize={12.5} fontFamily={SANS} textAnchor="middle">{t}</text>
      ))}
    </g>
  );
}

function DensityPanel({ p, id }) {
  const top = p.stripTop + 16;
  const x = d3.scaleLinear().domain([p.xA[0], p.xA[2]]).range([p.xA[1], p.xA[3]]);
  const y = d3.scaleLinear().domain([p.yA[0], p.yA[2]]).range([p.yA[1], p.yA[3]]);
  const line = d3.line<number[]>().x((d) => x(d[0])).y((d) => y(d[1])).curve(d3.curveMonotoneX);
  const xf = d3.format(p.xFmt);
  const yf = d3.format(p.yFmt);
  return (
    <g>
      <clipPath id={id}>
        <rect x={p.left} y={top} width={p.right - p.left} height={p.bottom - top} />
      </clipPath>
      <g clipPath={`url(#${id})`}>
        <path d={line(p.obs)} fill="none" stroke={OBS_COL} strokeWidth={2} />
        <path d={line(p.imp)} fill="none" stroke={IMP_COL} strokeWidth={2.6} strokeOpacity={0.9} />
      </g>
      <rect x={p.left} y={top} width={p.right - p.left} height={p.bottom - top} fill="none" stroke={FRAME} />
      <rect x={p.left} y={p.stripTop} width={p.right - p.left} height={16} fill={STRIP_FILL} stroke={FRAME} />
      <text x={(p.left + p.right) / 2} y={p.stripTop + 12.8} fontSize={14} fontFamily={SANS} textAnchor="middle">{p.name}</text>
      {p.xTicks.map((t) => (
        <g key={"x" + t}>
          <line x1={x(t)} x2={x(t)} y1={p.bottom} y2={p.bottom + 6} stroke={FRAME} />
          <text x={x(t)} y={p.bottom + 21} fontSize={12} fontFamily={SANS} textAnchor="middle">{xf(t)}</text>
        </g>
      ))}
      {p.yTicks.map((t) => (
        <line key={"y" + t} x1={p.left - 6} x2={p.left} y1={y(t)} y2={y(t)} stroke={FRAME} />
      ))}
      {p.yLabels.map((t) => (
        <text key={"yl" + t} transform={`translate(${p.left - 10},${y(t)}) rotate(-90)`} fontSize={12} fontFamily={SANS} textAnchor="middle">{yf(t)}</text>
      ))}
    </g>
  );
}

function RevHealthPanel() {
  const L = 697.3, R = 1097.7, T = 552.7, B = 770;
  const x = d3.scaleLinear().domain([1, 5]).range([744.7, 1050.3]);
  const y = d3.scaleLinear().domain([0, 1.5]).range([757.3, 589.7]);
  const line = d3.line<number[]>().x((d) => x(d[0])).y((d) => y(d[1])).curve(d3.curveMonotoneX);
  const yf = d3.format(".1f");
  return (
    <g>
      <path d={line(revHealthObs)} fill="none" stroke={OBS_COL} strokeWidth={2} />
      <path d={line(revHealthImp)} fill="none" stroke={IMP_COL} strokeWidth={2.6} strokeOpacity={0.9} />
      <rect x={L} y={T} width={R - L} height={B - T} fill="none" stroke={FRAME} />
      {revTicks.map((t) => (
        <g key={"x" + t}>
          <line x1={x(t)} x2={x(t)} y1={T - 6} y2={T} stroke={FRAME} />
          <line x1={x(t)} x2={x(t)} y1={B} y2={B + 6} stroke={FRAME} />
          <text x={x(t)} y={B + 21} fontSize={11.5} fontFamily={SANS} textAnchor="middle">{t}</text>
        </g>
      ))}
      {revDensityTicks.map((t) => (
        <g key={"y" + t}>
          <line x1={L - 6} x2={L} y1={y(t)} y2={y(t)} stroke={FRAME} />
          <line x1={R} x2={R + 6} y1={y(t)} y2={y(t)} stroke={FRAME} />
          <text x={L - 11} y={y(t) + 4} fontSize={11.5} fontFamily={SANS} textAnchor="end">{yf(t)}</text>
        </g>
      ))}
      <text transform="translate(657,662) rotate(-90)" fontSize={12.5} fontFamily={SANS} textAnchor="middle">Density</text>
      <text x={897} y={814} fontSize={12.5} fontFamily={SANS} textAnchor="middle">rev_health</text>
    </g>
  );
}

export default function App() {
  return (
    <svg width={1156} height={821} style={{ position: "absolute", left: 0, top: 0, background: "#fff" }}>
      <rect x={0} y={0} width={1156} height={821} fill="#fff" />
      <text x={267} y={28} fontSize={29} fontFamily={SERIF} textAnchor="middle">(a) Iterations</text>
      <text x={892} y={28} fontSize={29} fontFamily={SERIF} textAnchor="middle">(b) Iterations</text>
      <text x={251} y={472} fontSize={29} fontFamily={SERIF} textAnchor="middle">(c) Imputations vs Observed Values</text>
      <text x={911} y={472} fontSize={29} fontFamily={SERIF} textAnchor="middle">(d) Imputations vs Observed Values</text>

      {tracePanels.map((p, i) => (
        <TracePanel key={i} p={p} id={"tclip" + i} />
      ))}
      <text x={268} y={410} fontSize={13} fontFamily={SANS} textAnchor="middle">Iteration</text>
      <text x={907} y={410} fontSize={13} fontFamily={SANS} textAnchor="middle">Iteration</text>

      {densityPanels.map((p, i) => (
        <DensityPanel key={i} p={p} id={"dclip" + i} />
      ))}
      <text transform="translate(33,664) rotate(-90)" fontSize={13} fontFamily={SANS} textAnchor="middle">Density</text>

      <RevHealthPanel />
    </svg>
  );
}
